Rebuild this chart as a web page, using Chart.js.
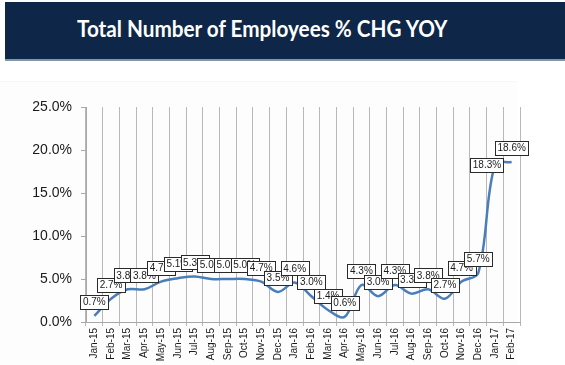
<!DOCTYPE html>
<html>
<head>
<meta charset="utf-8">
<script src="https://cdn.jsdelivr.net/npm/chart.js@4.4.0/dist/chart.umd.min.js"></script>
<style>
  html, body { margin: 0; padding: 0; background: #ffffff; }
  body { width: 565px; height: 365px; position: relative; overflow: hidden; font-family: "Liberation Sans", Arial, sans-serif; }
  #titlebar { position: absolute; left: 5px; top: 2px; width: 560px; height: 57px; background: #0e2648; border-bottom: 2px solid #8096ad; }
  #title { position: absolute; left: 72px; top: 12px; color: #ffffff; font-family: Lato, "Open Sans", sans-serif; font-weight: 700; font-size: 23px; white-space: nowrap; transform: scaleX(0.9); transform-origin: 0 0; }
  #panel { position: absolute; left: 0; top: 81px; width: 517px; height: 284px; background: #fdfdfd; border-top: 1px solid #f7f7ea; }
  #wrap { position: absolute; left: 0; top: 0; width: 565px; height: 365px; }
</style>
</head>
<body>
<div id="titlebar"><div id="title">Total Number of Employees % CHG YOY</div></div>
<div id="panel"></div>
<div id="wrap"><canvas id="c" width="565" height="365"></canvas></div>
<script>
const categories = ["Jan-15","Feb-15","Mar-15","Apr-15","May-15","Jun-15","Jul-15","Aug-15","Sep-15","Oct-15","Nov-15","Dec-15",
  "Jan-16","Feb-16","Mar-16","Apr-16","May-16","Jun-16","Jul-16","Aug-16","Sep-16","Oct-16","Nov-16","Dec-16","Jan-17","Feb-17"];
const employeesChgYoy = [0.7,2.7,3.8,3.8,4.7,5.1,5.3,5.0,5.0,5.0,4.7,3.5,
  4.6,3.0,1.4,0.6,4.3,3.0,4.3,3.3,3.8,2.7,4.7,5.7,18.3,18.6];
const yTicks = [0, 5, 10, 15, 20, 25];

const labelBoxes = {
  id: 'labelBoxes',
  afterDatasetsDraw(chart) {
    const ctx = chart.ctx;
    const meta = chart.getDatasetMeta(0);
    ctx.save();
    ctx.font = '10px "Liberation Sans", Arial, sans-serif';
    ctx.textAlign = 'center';
    ctx.textBaseline = 'middle';
    meta.data.forEach((pt, i) => {
      const txt = employeesChgYoy[i].toFixed(1) + '%';
      const w = Math.round(ctx.measureText(txt).width + 5);
      const h = 14;
      let cx = pt.x;
      let cy = pt.y - 14;
      // steep jump: label sits beside the point, to its left
      if (i > 0 && employeesChgYoy[i] - employeesChgYoy[i - 1] > 5) {
        cx = pt.x - 8;
        cy = pt.y;
      }
      const bx = Math.round(cx - w / 2) + 0.5;
      const by = Math.round(cy - h / 2) + 0.5;
      ctx.fillStyle = '#ffffff';
      ctx.fillRect(bx, by, w, h);
      ctx.strokeStyle = '#2a2a2a';
      ctx.lineWidth = 1;
      ctx.strokeRect(bx, by, w, h);
      ctx.fillStyle = '#1a1a1a';
      ctx.fillText(txt, cx, cy + 0.5);
    });
    ctx.restore();
  }
};

new Chart(document.getElementById('c'), {
  type: 'line',
  data: {
    labels: categories,
    datasets: [{
      data: employeesChgYoy,
      borderColor: '#4a7ebb',
      borderWidth: 2.5,
      pointRadius: 0,
      tension: 0.35,
      fill: false
    }]
  },
  options: {
    responsive: false,
    animation: false,
    devicePixelRatio: 1,
    layout: { padding: { top: 107, left: 0, right: 45, bottom: 0 } },
    plugins: { legend: { display: false }, tooltip: { enabled: false }, title: { display: false } },
    scales: {
      x: {
        offset: true,
        grid: { offset: true, color: '#b8b8b8', lineWidth: 1, drawTicks: true, tickLength: 4 },
        border: { color: '#a8a8a8' },
        ticks: {
          autoSkip: false, minRotation: 90, maxRotation: 90, padding: 2,
          color: '#1a1a1a', font: { family: '"Liberation Sans", Arial, sans-serif', size: 10 }
        },
        afterFit(scale) { scale.height = 43; }
      },
      y: {
        min: 0, max: 25,
        afterBuildTicks(scale) { scale.ticks = yTicks.map(v => ({ value: v })); },
        grid: { drawOnChartArea: false, drawTicks: true, tickLength: 5, color: '#a8a8a8' },
        border: { color: '#a8a8a8' },
        ticks: {
          padding: 9, color: '#1a1a1a',
          font: { family: '"Liberation Sans", Arial, sans-serif', size: 14 },
          callback: v => v.toFixed(1) + '%'
        },
        afterFit(scale) { scale.width = 86; }
      }
    }
  },
  plugins: [labelBoxes]
});
</script>
</body>
</html>
